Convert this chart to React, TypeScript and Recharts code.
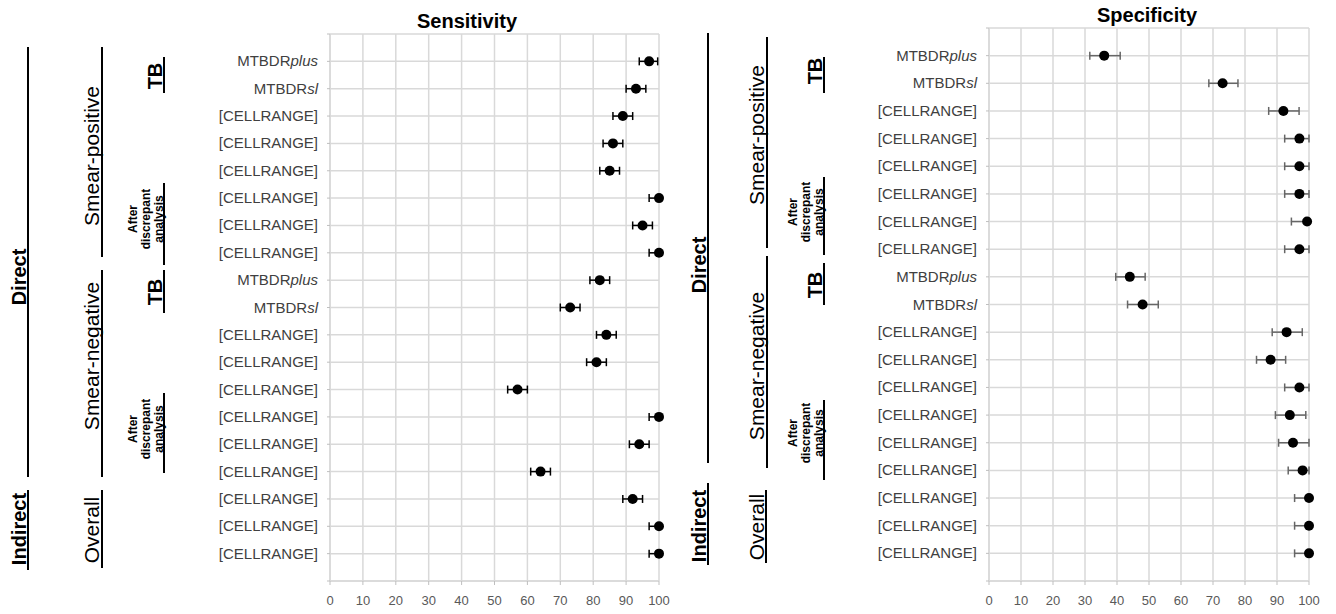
import React from "react";
import { CartesianGrid, ErrorBar, Scatter, ScatterChart, XAxis, YAxis } from "recharts";

const rowLabels = [
  "MTBDRplus", "MTBDRsl",
  "[CELLRANGE]", "[CELLRANGE]", "[CELLRANGE]", "[CELLRANGE]", "[CELLRANGE]", "[CELLRANGE]",
  "MTBDRplus", "MTBDRsl",
  "[CELLRANGE]", "[CELLRANGE]", "[CELLRANGE]", "[CELLRANGE]", "[CELLRANGE]",
  "[CELLRANGE]", "[CELLRANGE]", "[CELLRANGE]", "[CELLRANGE]",
];
const xTicks = [0, 10, 20, 30, 40, 50, 60, 70, 80, 90, 100];
const rowTicks = [0, 1, 2, 3, 4, 5, 6, 7, 8, 9, 10, 11, 12, 13, 14, 15, 16, 17, 18, 19, 20];

const sensValue = [97, 93, 89, 86, 85, 100, 95, 100, 82, 73, 84, 81, 57, 100, 94, 64, 92, 100, 100];
const sensLow = [94, 90, 86, 83, 82, 97, 92, 97, 79, 70, 81, 78, 54, 97, 91, 61, 89, 97, 97];
const sensHigh = [99.6, 96, 92, 89, 88, 100, 98, 100, 85, 76, 87, 84, 60, 100, 97, 67, 95, 100, 100];

const specValue = [36, 73, 92, 97, 97, 97, 99.4, 97, 44, 48, 93, 88, 97, 94, 95, 98, 100, 100, 100];
const specLow = [31.5, 68.7, 87.4, 92.4, 92.4, 92.4, 94.5, 92.4, 39.6, 43.3, 88.5, 83.6, 92.4, 89.5, 90.5, 93.5, 95.5, 95.5, 95.5];
const specHigh = [41, 77.8, 96.9, 100, 100, 100, 100, 100, 48.8, 52.9, 97.9, 92.7, 100, 99, 100, 100, 100, 100, 100];

const buildRows = (v: number[], lo: number[], hi: number[]) =>
  v.map((val, i) => ({ row: i + 1, value: val, err: [val - lo[i], hi[i] - val] }));

const FONT = "'Liberation Sans', Arial, sans-serif";

function RowTick(props: any) {
  const { x, y, payload } = props;
  const label = rowLabels[payload.value - 1];
  if (!label) return null;
  const m = label.match(/^(MTBDR)(.+)$/);
  return (
    <text x={x} y={y} dy={5} textAnchor="end" fontSize={15} fill="#404040" fontFamily={FONT}>
      {m ? (
        <>
          {m[1]}
          <tspan fontStyle="italic">{m[2]}</tspan>
        </>
      ) : (
        label
      )}
    </text>
  );
}

interface PanelProps {
  rows: { row: number; value: number; err: number[] }[];
  left: number;
  width: number;
  top: number;
  right: number;
  barColor: string;
}

function Panel({ rows, left, width, top, right, barColor }: PanelProps) {
  return (
    <div style={{ position: "absolute", left, top: 0 }}>
      <ScatterChart width={width} height={614} margin={{ top, right, bottom: 3, left: 0 }}>
        <CartesianGrid stroke="#d9d9d9" strokeWidth={1.5} />
        <XAxis
          type="number"
          dataKey="value"
          domain={[0, 100]}
          ticks={xTicks}
          interval={0}
          height={30}
          tickSize={4}
          tickMargin={11}
          axisLine={{ stroke: "#d9d9d9", strokeWidth: 1.5 }}
          tickLine={{ stroke: "#bfbfbf" }}
          tick={{ fontSize: 13, fill: "#595959", fontFamily: FONT }}
        />
        <YAxis
          type="number"
          dataKey="row"
          domain={[0, 20]}
          ticks={rowTicks}
          interval={0}
          reversed
          width={149}
          tickSize={3}
          tickMargin={9}
          axisLine={{ stroke: "#d9d9d9", strokeWidth: 1.5 }}
          tickLine={{ stroke: "#bfbfbf" }}
          tick={<RowTick />}
        />
        <Scatter
          data={rows}
          isAnimationActive={false}
          shape={(p: any) => <circle cx={p.cx} cy={p.cy} r={5} fill="#000" />}
        >
          <ErrorBar dataKey="err" direction="x" width={4} stroke={barColor} strokeWidth={1.5} />
        </Scatter>
      </ScatterChart>
    </div>
  );
}

function VText({ x, y, size, bold, children }: any) {
  return (
    <text
      x={x}
      y={y}
      transform={`rotate(-90 ${x} ${y})`}
      textAnchor="middle"
      fontSize={size}
      fontWeight={bold ? "bold" : "normal"}
      fill="#000"
      fontFamily={FONT}
    >
      {children}
    </text>
  );
}

function VLine({ x, y1, y2 }: { x: number; y1: number; y2: number }) {
  return <line x1={x} x2={x} y1={y1} y2={y2} stroke="#000" strokeWidth={2} />;
}

function Groups({ c }: { c: any }) {
  return (
    <g>
      <VText x={c.direct} y={c.directY} size={20} bold>Direct</VText>
      <VText x={c.smear} y={c.posY} size={21}>Smear-positive</VText>
      <VText x={c.smear} y={c.negY} size={21}>Smear-negative</VText>
      <VText x={c.tb} y={c.tb1Y} size={20} bold>TB</VText>
      <VText x={c.tb} y={c.tb2Y} size={20} bold>TB</VText>
      {[c.after1Y, c.after2Y].map((yy: number) => (
        <g key={yy}>
          <VText x={c.a1} y={yy} size={12} bold>After</VText>
          <VText x={c.a2} y={yy} size={12} bold>discrepant</VText>
          <VText x={c.a3} y={yy} size={12} bold>analysis</VText>
        </g>
      ))}
      <VText x={c.direct} y={c.indY} size={20} bold>Indirect</VText>
      <VText x={c.smear} y={c.ovY} size={21}>Overall</VText>
      {c.lines.map((l: number[], i: number) => (
        <VLine key={i} x={l[0]} y1={l[1]} y2={l[2]} />
      ))}
    </g>
  );
}

const sensLayout = {
  direct: 26, directY: 277, smear: 99, posY: 156, negY: 356, tb: 162, tb1Y: 76, tb2Y: 292,
  a1: 137, a2: 150, a3: 163, after1Y: 219, after2Y: 429, indY: 529, ovY: 530,
  lines: [
    [28, 47, 477], [102, 47, 257], [102, 270, 477], [164, 57, 93], [164, 183, 265],
    [164, 270, 313], [164, 393, 473], [28, 490, 570], [102, 490, 568],
  ],
};
const specLayout = {
  direct: 706, directY: 265, smear: 764, posY: 135, negY: 366, tb: 822, tb1Y: 71, tb2Y: 285,
  a1: 797, a2: 810, a3: 823, after1Y: 212, after2Y: 433, indY: 526, ovY: 527,
  lines: [
    [708, 33, 463], [767, 37, 248], [767, 256, 468], [824, 57, 93], [824, 177, 255],
    [824, 263, 305], [824, 400, 480], [708, 483, 565], [766, 490, 563],
  ],
};

export default function App() {
  const sensRows = buildRows(sensValue, sensLow, sensHigh);
  const specRows = buildRows(specValue, specLow, specHigh);
  return (
    <div style={{ position: "absolute", left: 0, top: 0, width: 1336, height: 614, background: "#fff", fontFamily: FONT }}>
      <Panel rows={sensRows} left={181} width={499} top={34} right={21} barColor="#000" />
      <Panel rows={specRows} left={840} width={496} top={28} right={27} barColor="#666" />
      <svg width={1336} height={614} style={{ position: "absolute", left: 0, top: 0, pointerEvents: "none" }}>
        <text x={467} y={28} textAnchor="middle" fontSize={20} fontWeight="bold" fontFamily={FONT}>Sensitivity</text>
        <text x={1147} y={22} textAnchor="middle" fontSize={20} fontWeight="bold" fontFamily={FONT}>Specificity</text>
        <Groups c={sensLayout} />
        <Groups c={specLayout} />
      </svg>
    </div>
  );
}
